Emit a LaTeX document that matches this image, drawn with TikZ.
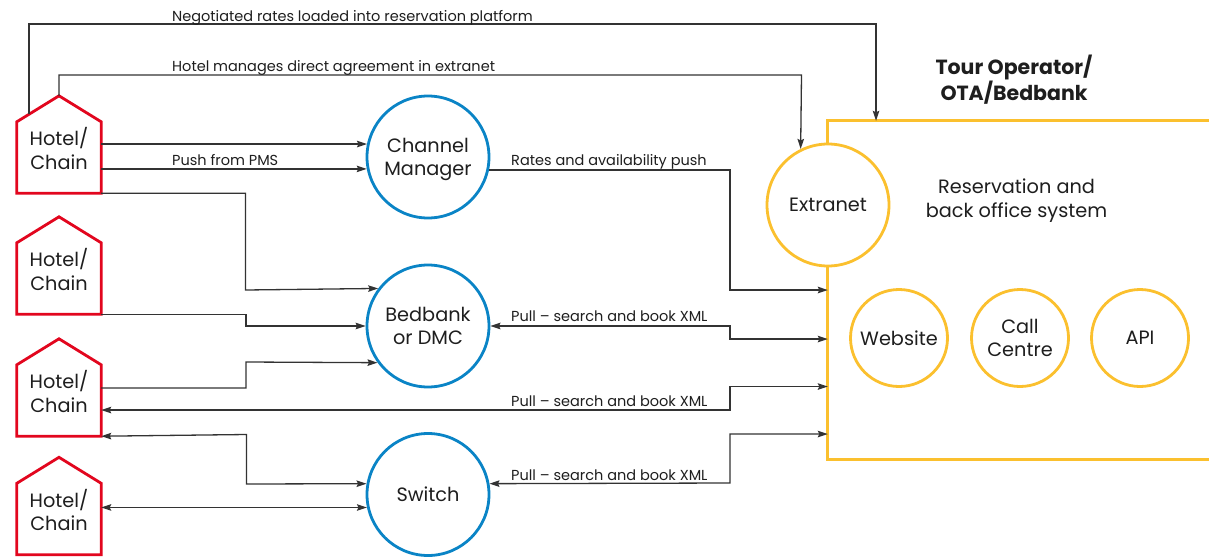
\documentclass[tikz,border=0pt]{standalone}
\usepackage{fontspec}
\setmainfont{Poppins}
\usetikzlibrary{arrows.meta,calc}
\definecolor{hred}{RGB}{226,6,30}
\definecolor{cblue}{RGB}{10,132,198}
\definecolor{oyel}{RGB}{251,192,46}
\definecolor{lgray}{RGB}{51,51,51}
\definecolor{tblack}{RGB}{30,30,30}
\begin{document}
\begin{tikzpicture}[x=1pt,y=-1pt,
  conn/.style={draw=lgray,line width=1.3pt},
  tip/.tip={Stealth[length=10pt,width=6.5pt,inset=1.5pt]},
  arr/.style={conn,-tip},
  darr/.style={conn,tip-tip},
  hotelbox/.style={minimum width=84pt,minimum height=71pt,inner sep=0pt,draw=none},
  hotelline/.style={draw=hred,line width=2.8pt,line join=miter},
  bigtxt/.style={font=\fontsize{19.3}{23.5}\selectfont,text=tblack,align=center,text depth=0pt},
  lbl/.style={font=\fontsize{14.5}{16}\selectfont,text=tblack,anchor=base west,inner sep=0pt},
  bluec/.style={circle,draw=cblue,line width=2.8pt,minimum size=122pt,inner sep=0pt,bigtxt},
  yelc/.style={circle,draw=oyel,line width=2.8pt,fill=white,inner sep=0pt,bigtxt},
  yelline/.style={draw=oyel,line width=2.8pt}
]
\useasboundingbox (0,0) rectangle (1209,557);
\fill[white] (0,0) rectangle (1209,557);

% hotels
\node[hotelbox] (h1) at (59,157.5) {};
\node[hotelbox] (h2) at (59,278.5) {};
\node[hotelbox] (h3) at (59,400.5) {};
\node[hotelbox] (h4) at (59,519) {};
\foreach \h in {h1,h2,h3,h4}{
  \coordinate (\h top) at ($(\h.north)+(0,-26)$);
  \draw[hotelline] (\h.south west) -- (\h.north west) -- (\h top) -- (\h.north east) -- (\h.south east) -- cycle;
  \node[bigtxt] (\h txt) at ($(\h.center)+(0,-9)$) {Hotel/\\Chain};
}

% blue circles
\node[bluec] (cm) at (428,157) {Channel\\Manager};
\node[bluec] (bb) at (428,326) {Bedbank\\or DMC};
\node[bluec] (sw) at (428,494.5) {Switch};

% reservation box
\node[minimum width=420pt,minimum height=338pt,inner sep=0pt] (box) at (1038,290) {};
\draw[yelline] (box.north east) -- (box.north west) -- (box.south west) -- (box.south east);
\node[yelc,minimum size=122pt] (ex) at (828,205) {Extranet};
\node[yelc,minimum size=97pt] (ws) at (899,338) {Website};
\node[yelc,minimum size=97pt] (cc) at (1020,338) {Call\\Centre};
\node[yelc,minimum size=97pt] (api) at (1140,338) {API};
\node[bigtxt] (res) at (1016.5,198) {Reservation and\\back office system};
\node[bigtxt,font=\fontsize{20.5}{24}\selectfont\bfseries] (title) at (1014,78) {Tour Operator/\\OTA/Bedbank};

% connectors
\coordinate (r1) at ($(h1.north west)!0.2857!(h1top)$);
\coordinate (k1) at (876,24);
\draw[arr] (r1) |- (k1) -- (box.north -| k1);
\node[lbl] (l1) at (172,21) {Negotiated rates loaded into reservation platform};

\coordinate (k2) at (801.5,75);
\draw[arr] (h1top) |- (k2) -- (ex.116.3);
\node[lbl] (l2) at (172,71.7) {Hotel manages direct agreement in extranet};

\draw[arr] (cm.168.65 -| h1.east) -- (cm.168.65);
\draw[arr] (cm.191.35 -| h1.east) -- (cm.191.35);
\node[lbl] (l3) at (172,165.7) {Push from PMS};

\coordinate (k5) at (245.5,290);
\draw[arr] (h1.south east) -| (k5) -- (bb.143.8);
\coordinate (k6) at (246,326);
\draw[arr] (h2.south east) -| (k6) -- (bb.west);
\coordinate (k7) at (246,362);
\draw[arr] ([yshift=12.5pt]h3.east) -| (k7) -- (bb.216.2);

\coordinate (k9) at (730,290);
\draw[arr] (cm.348.65) -| (k9) -- (k9 -| box.west);
\node[lbl] (l4) at (511,165.7) {Rates and availability push};

\coordinate (k8a) at (730,326);
\coordinate (k8b) at (730,339);
\draw[darr] (bb.east) -- (k8a) -- (k8b) -- (k8b -| box.west);
\node[lbl] (l5) at (511,321.5) {Pull – search and book XML};

\coordinate (k10a) at (730,410);
\coordinate (k10b) at (730,386.5);
\draw[darr] (k10a -| h3.east) -- (k10a) -- (k10b) -- (k10b -| box.west);
\node[lbl] (l6) at (511,406.7) {Pull – search and book XML};

\coordinate (k11a) at (246.5,434.5);
\coordinate (k11b) at (246.5,484);
\draw[darr] (h3.south east) -- (k11a) -- (k11b) -- (sw.170.1);

\draw[darr] (sw.192.1 -| h4.east) -- (sw.192.1);

\coordinate (k13a) at (730,483);
\coordinate (k13b) at (730,434);
\draw[darr] (sw.10.9) -- (k13a) -- (k13b) -- (k13b -| box.west);
\node[lbl] (l7) at (511,480) {Pull – search and book XML};
\end{tikzpicture}
\end{document}
